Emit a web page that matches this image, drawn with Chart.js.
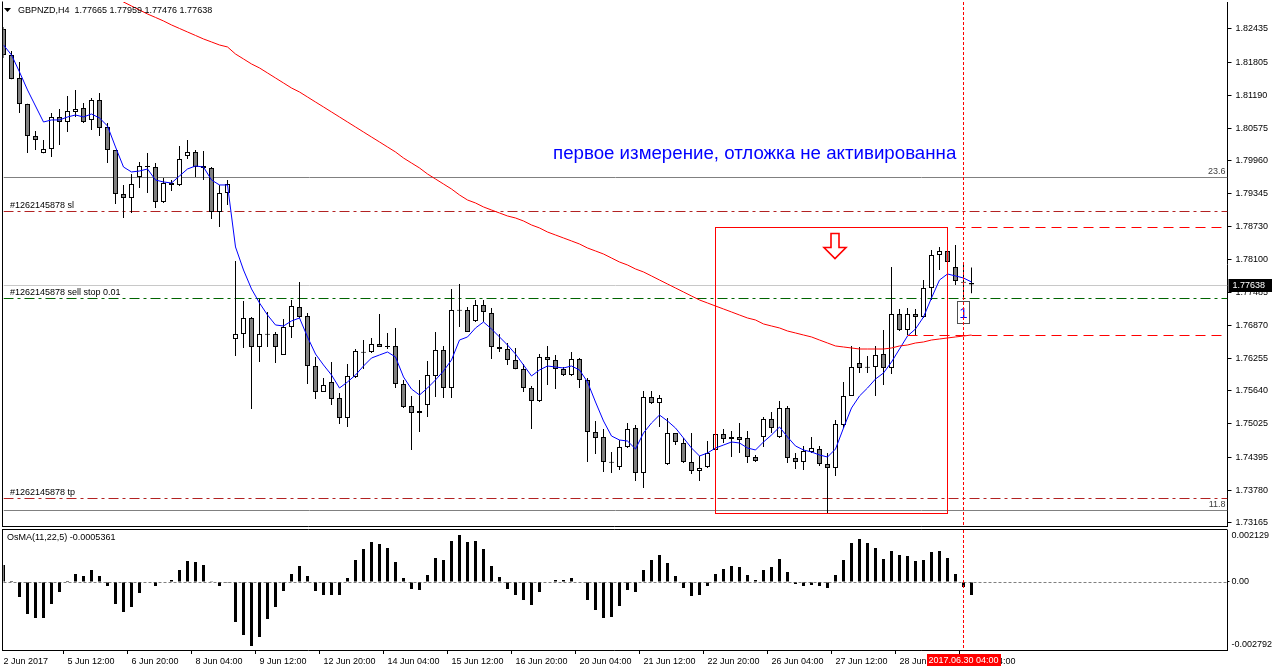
<!DOCTYPE html>
<html><head><meta charset="utf-8">
<script src="https://cdn.jsdelivr.net/npm/chart.js@4.4.0/dist/chart.umd.min.js"></script>
<style>
html,body{margin:0;padding:0;background:#fff;width:1272px;height:672px;overflow:hidden}
#c1{position:absolute;left:0;top:0}
#c2{position:absolute;left:0;top:528px}
</style></head><body>
<canvas id="c1" width="1272" height="530"></canvas>
<canvas id="c2" width="1272" height="144"></canvas>
<script>
// ---------------- DATA ----------------
const symbol = 'GBPNZD,H4';
const opens = [1.82435,1.81947,1.81515,1.81027,1.80426,1.80107,1.80182,1.80783,1.80689,1.80877,
1.80952,1.80727,1.81102,1.80595,1.80164,1.79338,1.79263,1.79657,1.79863,1.79844,
1.79187,1.79544,1.79507,1.80051,1.80126,1.79863,1.79826,1.79000,1.79356,1.76616,
1.76710,1.77010,1.76466,1.76710,1.76710,1.76316,1.76841,1.77217,1.77048,1.76109,
1.75621,1.75809,1.75509,1.75133,1.75903,1.76372,1.76372,1.76522,1.76485,1.76485,
1.75771,1.75358,1.75227,1.75377,1.75922,1.76409,1.75696,1.77160,1.77160,1.76954,
1.77254,1.77104,1.76466,1.76428,1.76222,1.76053,1.75696,1.75452,1.76278,1.76222,
1.76053,1.75940,1.76241,1.75847,1.74870,1.74777,1.74307,1.74214,1.74589,1.74945,
1.74101,1.75527,1.75415,1.74270,1.74852,1.74664,1.74307,1.74138,1.74214,1.74533,
1.74833,1.74739,1.74777,1.74758,1.74401,1.74777,1.75114,1.74777,1.75321,1.74382,
1.74307,1.74495,1.74551,1.74270,1.74195,1.75002,1.75546,1.76165,1.76090,1.76090,
1.76334,1.76072,1.77085,1.76785,1.77085,1.77029,1.77573,1.78193,1.78268,1.77967,
1.77686,1.77665];
const highs = [1.82472,1.82022,1.81815,1.81030,1.80520,1.80351,1.80858,1.80933,1.81177,1.81290,
1.81046,1.81140,1.81233,1.80670,1.80164,1.79507,1.79713,1.79938,1.80107,1.79919,
1.79638,1.79600,1.80239,1.80351,1.80164,1.80145,1.79844,1.79507,1.79600,1.78080,
1.77329,1.77029,1.77367,1.77123,1.76748,1.76991,1.77348,1.77686,1.77104,1.76278,
1.75884,1.76184,1.75602,1.76147,1.76428,1.76597,1.76635,1.77085,1.76729,1.76823,
1.75847,1.75546,1.75847,1.76203,1.76748,1.76485,1.77555,1.77648,1.77217,1.77348,
1.77348,1.77198,1.76710,1.76541,1.76447,1.76147,1.75734,1.76334,1.76485,1.76316,
1.76090,1.76372,1.76259,1.75884,1.75077,1.74927,1.74495,1.74720,1.75039,1.75002,
1.75640,1.75640,1.75565,1.75133,1.74852,1.74758,1.74852,1.74420,1.74701,1.74945,
1.74927,1.74889,1.75039,1.74889,1.74439,1.75152,1.75246,1.75452,1.75358,1.74476,
1.74608,1.74777,1.74608,1.74476,1.75096,1.75809,1.76485,1.76466,1.76297,1.76485,
1.76785,1.77967,1.77179,1.77198,1.77179,1.77723,1.78287,1.78343,1.78268,1.78380,
1.78042,1.77959];
const lows = [1.81890,1.81490,1.80858,1.80107,1.80164,1.80100,1.80032,1.80257,1.80501,1.80783,
1.80670,1.80539,1.80426,1.79919,1.79150,1.78887,1.78981,1.79450,1.79356,1.79075,
1.79169,1.79394,1.79488,1.79995,1.79657,1.79600,1.78868,1.78718,1.79131,1.76297,
1.76447,1.75302,1.76184,1.76466,1.76165,1.76316,1.76635,1.77010,1.75771,1.75490,
1.75621,1.75377,1.75021,1.74964,1.75884,1.76053,1.76353,1.76466,1.76428,1.75696,
1.75321,1.74533,1.74870,1.75152,1.75527,1.75509,1.75509,1.76841,1.76748,1.76935,
1.76935,1.76241,1.76372,1.76128,1.76050,1.75621,1.74927,1.75434,1.75753,1.75677,
1.75922,1.75922,1.75696,1.74307,1.74458,1.74120,1.74101,1.74157,1.74570,1.73951,
1.73819,1.75396,1.74964,1.74251,1.74626,1.74288,1.74082,1.73951,1.74195,1.74533,
1.74664,1.74401,1.74476,1.74288,1.74307,1.74589,1.74852,1.74758,1.74288,1.74176,
1.74157,1.74476,1.74232,1.73350,1.74045,1.74945,1.75546,1.75978,1.75978,1.75546,
1.75753,1.75959,1.76766,1.76691,1.76691,1.77010,1.77348,1.77911,1.78042,1.77630,
1.77348,1.77476];
const closes = [1.81947,1.81496,1.81027,1.80426,1.80351,1.80182,1.80783,1.80689,1.80896,1.80933,
1.80689,1.81102,1.80576,1.80164,1.79338,1.79263,1.79525,1.79863,1.79844,1.79187,
1.79544,1.79507,1.79995,1.80126,1.79844,1.79826,1.79000,1.79356,1.79525,1.76710,
1.77010,1.76466,1.76710,1.76701,1.76466,1.76841,1.77235,1.77029,1.76109,1.75621,
1.75753,1.75490,1.75133,1.75922,1.76391,1.76363,1.76522,1.76466,1.76466,1.75771,
1.75340,1.75227,1.75264,1.75940,1.76409,1.75696,1.77160,1.77150,1.76748,1.77254,
1.77123,1.76466,1.76428,1.76222,1.76053,1.75696,1.75452,1.76278,1.76222,1.76053,
1.75940,1.76241,1.75847,1.74870,1.74758,1.74307,1.74298,1.74589,1.74927,1.74101,
1.75527,1.75415,1.75509,1.74852,1.74683,1.74307,1.74138,1.74195,1.74476,1.74833,
1.74739,1.74777,1.74720,1.74401,1.74326,1.75114,1.74945,1.75321,1.74382,1.74307,
1.74514,1.74570,1.74270,1.74195,1.75021,1.75546,1.76090,1.76072,1.76081,1.76316,
1.76072,1.77085,1.76785,1.77085,1.77029,1.77573,1.78193,1.78268,1.78061,1.77705,
1.77676,1.77638];
// fast MA (blue)
const maFast = [1.82134,1.81947,1.81628,1.81290,1.80989,1.80689,1.80727,1.80727,1.80783,1.80820,
1.80783,1.80839,1.80764,1.80614,1.80220,1.79844,1.79751,1.79769,1.79807,1.79600,
1.79563,1.79544,1.79676,1.79807,1.79863,1.79844,1.79600,1.79507,1.79507,1.78343,
1.77911,1.77555,1.77292,1.77066,1.76879,1.76860,1.76954,1.77010,1.76654,1.76334,
1.76128,1.75940,1.75696,1.75809,1.75940,1.76109,1.76259,1.76316,1.76372,1.76278,
1.75903,1.75677,1.75565,1.75696,1.75847,1.76015,1.76222,1.76597,1.76654,1.76822,
1.76935,1.76804,1.76654,1.76503,1.76334,1.76128,1.75922,1.76034,1.76109,1.76090,
1.76072,1.76109,1.76034,1.75809,1.75433,1.75077,1.74795,1.74720,1.74701,1.74551,
1.74852,1.75039,1.75189,1.75077,1.74945,1.74758,1.74570,1.74420,1.74476,1.74570,
1.74626,1.74683,1.74664,1.74570,1.74533,1.74683,1.74814,1.74964,1.74777,1.74608,
1.74533,1.74495,1.74439,1.74401,1.74551,1.74945,1.75321,1.75546,1.75696,1.75865,
1.75978,1.76184,1.76428,1.76672,1.76804,1.77029,1.77386,1.77723,1.77836,1.77799,
1.77761,1.77686];
// slow MA (red)
const maSlow = [null,null,null,null,null,null,null,null,null,null,
null,null,null,null,1.83017,1.82941,1.82866,1.82791,1.82716,1.82651,
1.82585,1.82510,1.82444,1.82378,1.82313,1.82247,1.82191,1.82134,1.82097,1.81965,
1.81872,1.81778,1.81703,1.81609,1.81515,1.81421,1.81327,1.81252,1.81158,1.81064,
1.80971,1.80877,1.80783,1.80689,1.80595,1.80501,1.80407,1.80314,1.80220,1.80126,
1.80013,1.79919,1.79826,1.79713,1.79619,1.79525,1.79431,1.79319,1.79225,1.79169,
1.79094,1.79037,1.78981,1.78925,1.78887,1.78831,1.78756,1.78700,1.78624,1.78568,
1.78512,1.78456,1.78399,1.78324,1.78268,1.78211,1.78136,1.78061,1.78005,1.77930,
1.77874,1.77799,1.77723,1.77648,1.77573,1.77498,1.77423,1.77348,1.77292,1.77235,
1.77179,1.77123,1.77066,1.77010,1.76973,1.76898,1.76860,1.76823,1.76766,1.76729,
1.76691,1.76654,1.76597,1.76541,1.76485,1.76466,1.76447,1.76428,1.76428,1.76428,
1.76428,1.76447,1.76485,1.76503,1.76541,1.76560,1.76597,1.76616,1.76635,1.76654,
1.76672,1.76691];
// OsMA histogram
const osma = [0.000697,0.000041,-0.000615,-0.001312,-0.001476,-0.001476,-0.000902,-0.000410,0.000041,0.000328,
0.000246,0.000492,0.000246,-0.000164,-0.000902,-0.001230,-0.001025,-0.000451,-0.000020,-0.000164,
0.000020,0.000082,0.000492,0.000861,0.000820,0.000697,0.000010,-0.000164,-0.000010,-0.001640,
-0.002173,-0.002624,-0.002255,-0.001517,-0.001025,-0.000369,0.000328,0.000656,0.000246,-0.000369,
-0.000533,-0.000533,-0.000533,0.000164,0.000902,0.001353,0.001640,0.001558,0.001394,0.000820,
0.000164,-0.000287,-0.000328,0.000287,0.000984,0.000902,0.001681,0.001927,0.001640,0.001681,
0.001353,0.000656,0.000205,-0.000287,-0.000533,-0.000738,-0.000943,-0.000410,0.000020,0.000082,
0.000082,0.000164,-0.000020,-0.000738,-0.001148,-0.001476,-0.001435,-0.000984,-0.000328,-0.000410,
0.000492,0.000902,0.001107,0.000779,0.000246,-0.000246,-0.000574,-0.000533,-0.000164,0.000328,
0.000533,0.000656,0.000615,0.000287,0.000082,0.000492,0.000615,0.000943,0.000410,-0.000082,
-0.000164,-0.000123,-0.000164,-0.000246,0.000287,0.000902,0.001599,0.001763,0.001599,0.001394,
0.000943,0.001271,0.001107,0.001066,0.000861,0.000902,0.001230,0.001271,0.000984,0.000328,
-0.000205,-0.0005361];
const xTickLabels = ['2 Jun 2017','5 Jun 12:00','6 Jun 20:00','8 Jun 04:00','9 Jun 12:00','12 Jun 20:00',
'14 Jun 04:00','15 Jun 12:00','16 Jun 20:00','20 Jun 04:00','21 Jun 12:00','22 Jun 20:00',
'26 Jun 04:00','27 Jun 12:00','28 Jun 20:00','30 Jun 04:00'];
const priceTicks = [1.82435,1.81805,1.81190,1.80575,1.79960,1.79345,1.78730,1.78100,1.77485,1.76870,
1.76255,1.75640,1.75025,1.74395,1.73780,1.73165];
const priceRange = [1.73106, 1.82941];
const osmaRange = [-0.002792, 0.002129];
const osmaAxisLabels = ['-0.002792','0.00','0.002129'];
const fibLevels = [1.79657, 1.73406];
const fibLabels = ['23.6', '11.8'];
const orderLevels = [1.79019, 1.77376, 1.73632];
const orderLabels = ['#1262145878 sl', '#1262145878 sell stop 0.01', '#1262145878 tp'];
const measureLevels = [1.78718, 1.76691];
const measureStartBars = [119, 113];
const boxBars = [89, 118];
const boxPrices = [1.78718, 1.73350];
const arrowBar = 104, arrowPrice = 1.78606;
const markBar = 120;
const markLabel = '2017.06.30 04:00';
const counterBoxPrices = [1.77329, 1.76916];
const counterText = '1';
const noteText = 'первое измерение, отложка не активированна';
const noteBar = 68.69, notePrice = 1.79994;
const osmaName = 'OsMA(11,22,5)';

// ---------------- SETUP ----------------
const NSLOTS = 154;
const slotLabels = Array.from({length: NSLOTS}, (_, i) => String(i));
const FONT = "'Liberation Sans', Arial, sans-serif";
Chart.defaults.font.family = FONT;
Chart.defaults.font.size = 9;
Chart.defaults.color = '#000';
const last = closes.length - 1;
const fmt5 = v => v.toFixed(5);

function hLine(ctx, y, x0, x1, dash, color) {
  ctx.save(); ctx.strokeStyle = color; ctx.lineWidth = 1; ctx.setLineDash(dash);
  const yy = Math.round(y) + 0.5;
  ctx.beginPath(); ctx.moveTo(x0, yy); ctx.lineTo(x1, yy); ctx.stroke(); ctx.restore();
}
function vLine(ctx, x, y0, y1, dash, color) {
  ctx.save(); ctx.strokeStyle = color; ctx.lineWidth = 1; ctx.setLineDash(dash);
  const xx = Math.floor(x) + 0.5;
  ctx.beginPath(); ctx.moveTo(xx, y0); ctx.lineTo(xx, y1); ctx.stroke(); ctx.restore();
}

const mainOverlay = {
  id: 'mainOverlay',
  beforeDatasetsDraw(chart) {
    const {ctx, chartArea: a, scales: {x, y}} = chart;
    ctx.save();
    ctx.beginPath(); ctx.rect(a.left, a.top, a.right - a.left, a.bottom - a.top); ctx.clip();
    fibLevels.forEach(p => hLine(ctx, y.getPixelForValue(p), a.left, a.right, [], '#808080'));
    hLine(ctx, y.getPixelForValue(closes[last]), a.left, a.right, [], '#c8c8c8');
    const orderColors = ['#b22222', '#006400', '#b22222'];
    orderLevels.forEach((p, i) => hLine(ctx, y.getPixelForValue(p), a.left, a.right, [10, 4, 3, 4], orderColors[i]));
    ctx.restore();
  },
  afterDatasetsDraw(chart) {
    const {ctx, chartArea: a, scales: {x, y}} = chart;
    ctx.save();
    ctx.beginPath(); ctx.rect(a.left, a.top, a.right - a.left, a.bottom - a.top); ctx.clip();
    // order labels
    ctx.font = '9px ' + FONT; ctx.fillStyle = '#000'; ctx.textBaseline = 'alphabetic'; ctx.textAlign = 'left';
    orderLevels.forEach((p, i) => ctx.fillText(orderLabels[i], 10, Math.round(y.getPixelForValue(p)) - 3));
    // fib labels
    ctx.fillStyle = '#404040'; ctx.textAlign = 'right';
    fibLevels.forEach((p, i) => ctx.fillText(fibLabels[i], a.right - 2, Math.round(y.getPixelForValue(p)) - 3));
    // rectangle
    const bx0 = Math.floor(x.getPixelForValue(boxBars[0])) + 0.5, bx1 = Math.floor(x.getPixelForValue(boxBars[1])) + 0.5;
    const by0 = Math.round(y.getPixelForValue(boxPrices[0])) + 0.5, by1 = Math.round(y.getPixelForValue(boxPrices[1])) + 0.5;
    ctx.strokeStyle = '#ff0000'; ctx.lineWidth = 1; ctx.setLineDash([]);
    ctx.strokeRect(bx0, by0, bx1 - bx0, by1 - by0);
    // measure dashed lines
    measureLevels.forEach((p, i) => hLine(ctx, y.getPixelForValue(p), x.getPixelForValue(measureStartBars[i]), a.right, [10, 6], '#ff0000'));
    // arrow
    const cx = x.getPixelForValue(arrowBar) - 0.5, top = Math.round(y.getPixelForValue(arrowPrice)) + 0.5;
    ctx.beginPath();
    ctx.moveTo(cx - 4, top); ctx.lineTo(cx + 4, top); ctx.lineTo(cx + 4, top + 14); ctx.lineTo(cx + 11, top + 14);
    ctx.lineTo(cx, top + 25); ctx.lineTo(cx - 11, top + 14); ctx.lineTo(cx - 4, top + 14); ctx.closePath();
    ctx.fillStyle = '#fff'; ctx.fill(); ctx.strokeStyle = '#ff0000'; ctx.lineWidth = 1.6; ctx.stroke();
    // counter box
    const mx = x.getPixelForValue(markBar);
    const cy0 = Math.round(y.getPixelForValue(counterBoxPrices[0])) + 0.5, cy1 = Math.round(y.getPixelForValue(counterBoxPrices[1])) + 0.5;
    ctx.lineWidth = 1; ctx.strokeStyle = '#505050';
    ctx.strokeRect(Math.floor(mx) - 6 + 0.5, cy0, 12, cy1 - cy0);
    ctx.fillStyle = '#0000ff'; ctx.font = '15px ' + FONT; ctx.textAlign = 'center'; ctx.textBaseline = 'middle';
    ctx.fillText(counterText, mx, (cy0 + cy1) / 2 + 1);
    // vertical marker
    vLine(ctx, mx, a.top, a.bottom, [3, 2], '#ff0000');
    // note text
    ctx.fillStyle = '#0000ff'; ctx.font = '18.7px ' + FONT; ctx.textAlign = 'left'; ctx.textBaseline = 'alphabetic';
    ctx.fillText(noteText, x.getPixelForValue(noteBar), y.getPixelForValue(notePrice));
    ctx.restore();
  },
  afterDraw(chart) {
    const {ctx, chartArea: a, scales: {y}} = chart;
    ctx.save();
    ctx.strokeStyle = '#000'; ctx.lineWidth = 1;
    ctx.beginPath();
    ctx.moveTo(a.left - 1, a.top - 0.5); ctx.lineTo(a.left - 1, a.bottom + 0.5);
    ctx.moveTo(a.left - 1.5, a.bottom + 0.5); ctx.lineTo(a.right, a.bottom + 0.5);
    ctx.stroke();
    // header
    ctx.fillStyle = '#000';
    ctx.beginPath(); ctx.moveTo(4, 8); ctx.lineTo(11, 8); ctx.lineTo(7.5, 12); ctx.closePath(); ctx.fill();
    ctx.font = '9px ' + FONT; ctx.textBaseline = 'middle'; ctx.textAlign = 'left';
    ctx.fillText(symbol + '  ' + [opens[last], highs[last], lows[last], closes[last]].map(fmt5).join(' '), 18, 10.5);
    // bid price tag
    const by = Math.round(y.getPixelForValue(closes[last]));
    ctx.fillStyle = '#000'; ctx.fillRect(a.right + 1, by - 6, 1272 - a.right, 13);
    ctx.fillStyle = '#fff'; ctx.fillText(fmt5(closes[last]), a.right + 5, by + 0.5);
    ctx.restore();
  }
};

const bodyData = opens.map((o, i) => {
  const c = closes[i];
  if (Math.abs(c - o) < 0.00019) { const m = (o + c) / 2; return [m - 0.0001, m + 0.0001]; }
  return [o, c];
});

new Chart(document.getElementById('c1'), {
  data: {
    labels: slotLabels,
    datasets: [
      {type: 'line', data: maSlow, borderColor: '#ff0000', borderWidth: 1, pointRadius: 0, tension: 0, order: 0, clip: 0},
      {type: 'line', data: maFast, borderColor: '#0000ff', borderWidth: 1, pointRadius: 0, tension: 0, order: 1, clip: 0},
      {type: 'bar', data: bodyData, backgroundColor: opens.map((o, i) => closes[i] >= o ? '#ffffff' : '#808080'),
       borderColor: '#000', borderWidth: 1, borderSkipped: false, barThickness: 5, grouped: false, inflateAmount: 0, order: 2, clip: 0},
      {type: 'bar', data: lows.map((l, i) => [l, highs[i]]), backgroundColor: '#000', borderWidth: 0,
       barThickness: 1, grouped: false, inflateAmount: 0, order: 3, clip: 0}
    ]
  },
  options: {
    responsive: false, animation: false, devicePixelRatio: 1,
    layout: {padding: {left: 3.5, top: 2, right: 0, bottom: 4}},
    plugins: {legend: {display: false}, tooltip: {enabled: false}},
    scales: {
      x: {type: 'category', offset: false, display: false},
      y: {position: 'right', min: priceRange[0], max: priceRange[1],
          afterFit(s) { s.width = 44.5; s.paddingTop = 0; s.paddingBottom = 0; },
          afterBuildTicks(s) { s.ticks = priceTicks.map(v => ({value: v})); },
          ticks: {callback: v => fmt5(v), color: '#000', font: {size: 9}, padding: 4, autoSkip: false},
          grid: {drawOnChartArea: false, drawTicks: true, tickLength: 4, color: '#000'},
          border: {display: true, color: '#000'}}
    }
  },
  plugins: [mainOverlay]
});

const osmaOverlay = {
  id: 'osmaOverlay',
  beforeDatasetsDraw(chart) {
    const {ctx, chartArea: a, scales: {y}} = chart;
    hLine(ctx, y.getPixelForValue(0), a.left, a.right, [3, 2], '#808080');
  },
  afterDraw(chart) {
    const {ctx, chartArea: a, scales: {x}} = chart;
    ctx.save();
    ctx.strokeStyle = '#000'; ctx.lineWidth = 1;
    ctx.beginPath();
    ctx.moveTo(a.left - 1.5, a.top - 0.5); ctx.lineTo(a.right, a.top - 0.5);
    ctx.moveTo(a.left - 1, a.top - 0.5); ctx.lineTo(a.left - 1, a.bottom + 0.5);
    ctx.moveTo(a.left - 1.5, a.bottom + 0.5); ctx.lineTo(a.right, a.bottom + 0.5);
    ctx.stroke();
    ctx.fillStyle = '#000'; ctx.font = '9px ' + FONT; ctx.textBaseline = 'middle'; ctx.textAlign = 'left';
    ctx.fillText(osmaName + ' ' + osma[last].toFixed(7), 7, a.top + 7.5);
    const mx = x.getPixelForValue(markBar);
    vLine(ctx, mx, a.top, a.bottom, [3, 2], '#ff0000');
    // time label tag
    ctx.fillStyle = '#ff0000'; ctx.fillRect(Math.round(mx) - 37, a.bottom + 4, 74, 12);
    ctx.fillStyle = '#fff'; ctx.textAlign = 'center';
    ctx.fillText(markLabel, mx, a.bottom + 10.5);
    ctx.restore();
  }
};

new Chart(document.getElementById('c2'), {
  data: {
    labels: slotLabels,
    datasets: [
      {type: 'bar', data: osma, backgroundColor: '#000', borderWidth: 0, barThickness: 3, grouped: false, inflateAmount: 0, clip: 0}
    ]
  },
  options: {
    responsive: false, animation: false, devicePixelRatio: 1,
    layout: {padding: {left: 3.5, top: 2, right: 0, bottom: 0}},
    plugins: {legend: {display: false}, tooltip: {enabled: false}},
    scales: {
      x: {type: 'category', offset: false,
          afterFit(s) { s.height = 22; s.paddingLeft = 0; s.paddingRight = 0; },
          ticks: {autoSkip: false, maxRotation: 0, minRotation: 0, align: 'start', padding: 2, color: '#000', font: {size: 9},
                  callback: (v, i) => (i % 8 === 0 && i / 8 < xTickLabels.length) ? xTickLabels[i / 8] : ''},
          grid: {drawOnChartArea: false, drawTicks: true, tickLength: 4,
                 color: ctx => (ctx.index % 8 === 0 && ctx.index / 8 < xTickLabels.length) ? '#000' : 'rgba(0,0,0,0)'},
          border: {display: false}},
      y: {position: 'right', min: osmaRange[0], max: osmaRange[1],
          afterFit(s) { s.width = 44.5; s.paddingTop = 0; s.paddingBottom = 0; },
          afterBuildTicks(s) {
            const span = osmaRange[1] - osmaRange[0];
            s.ticks = [{value: osmaRange[0] + span * 0.042}, {value: 0}, {value: osmaRange[1] - span * 0.05}];
          },
          ticks: {callback: (v, i) => osmaAxisLabels[i], color: '#000', font: {size: 9}, padding: 2, autoSkip: false},
          grid: {drawOnChartArea: false, drawTicks: true, tickLength: 2, color: ctx => ctx.index === 1 ? '#000' : 'rgba(0,0,0,0)'},
          border: {display: true, color: '#000'}}
    }
  },
  plugins: [osmaOverlay]
});
</script></body></html>
